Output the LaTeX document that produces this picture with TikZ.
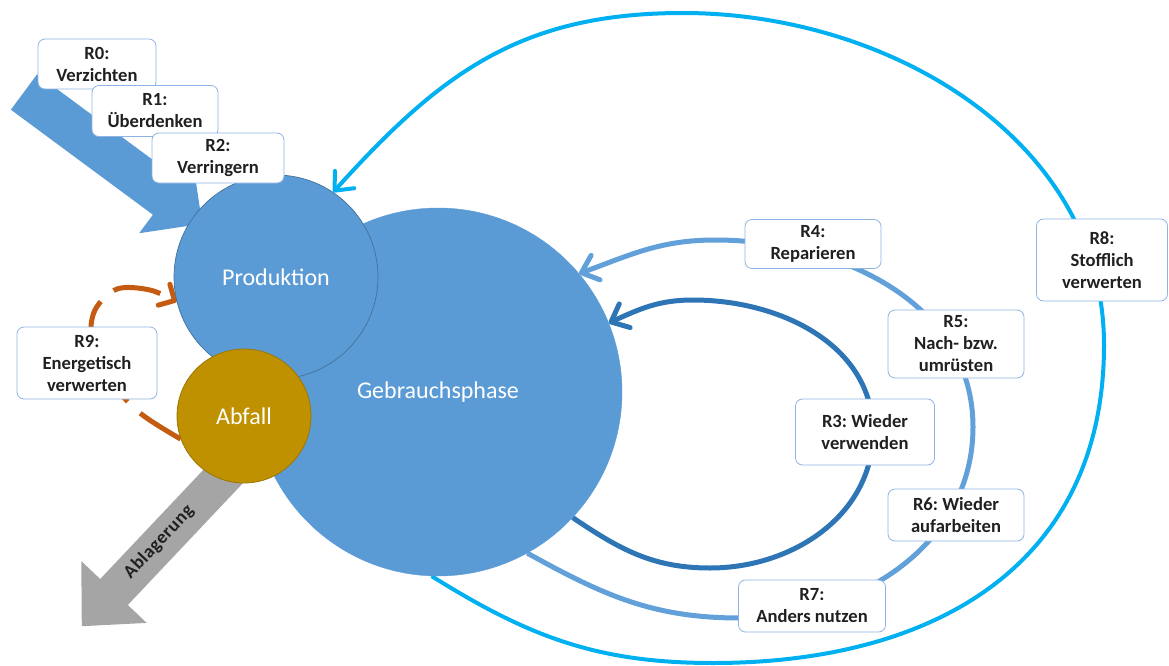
\documentclass[tikz,border=0pt]{standalone}
\usepackage{fontspec}
\setmainfont{Carlito}
\usetikzlibrary{arrows.meta}
\pgfdeclarelayer{back}
\pgfsetlayers{back,main}
\definecolor{circblue}{HTML}{5B9BD5}
\definecolor{circedge}{HTML}{41719C}
\definecolor{darkloop}{HTML}{2E75B6}
\definecolor{midloop}{HTML}{62A0DA}
\definecolor{cyanloop}{HTML}{00B0F0}
\definecolor{orangeloop}{HTML}{C55A11}
\definecolor{gold}{HTML}{BF9000}
\definecolor{goldedge}{HTML}{9C7600}
\definecolor{boxedge}{HTML}{8EB4E3}
\definecolor{txt}{HTML}{202020}
\definecolor{grayarrow}{HTML}{A5A5A5}
\frenchspacing
\begin{document}
\begin{tikzpicture}[x=1pt,y=-1pt,
  lbl/.style={draw=boxedge, line width=0.8pt, fill=white, rounded corners=7pt,
    align=center, inner sep=0pt, font=\fontsize{18.6}{22}\selectfont\bfseries, text=txt},
  phase/.style={circle, inner sep=0pt, font=\fontsize{24}{28}\selectfont, text=white},
  barb/.style={-{Straight Barb[length=15pt,width=26pt,round]}},
  loopline/.style={line width=5pt, barb}
]
\useasboundingbox (0,0) rectangle (1169,666);

% circles
\node[phase, fill=circblue, draw=circblue, minimum size=368pt] (geb) at (438,392) {Gebrauchsphase};
\node[phase, fill=circblue, draw=circedge, line width=0.7pt, minimum size=204pt] (prod) at (276,277) {Produktion};
\node[phase, fill=gold, draw=goldedge, line width=0.8pt, minimum size=134pt] (abf) at (244,416) {Abfall};

% labels
\node[lbl, minimum width=118pt, minimum height=50pt] (r0) at (97,64) {R0:\\Verzichten};
\node[lbl, minimum width=126pt, minimum height=51pt] (r1) at (155,111) {R1:\\Überdenken};
\node[lbl, minimum width=132pt, minimum height=50pt] (r2) at (218,158) {R2:\\Verringern};
\node[lbl, minimum width=140pt, minimum height=72pt] (r9) at (87,363) {R9:\\Energetisch\\verwerten};
\node[lbl, minimum width=136pt, minimum height=49pt] (r4) at (813,244) {R4:\\Reparieren};
\node[lbl, minimum width=136pt, minimum height=68pt] (r5) at (956,344) {R5:\\Nach- bzw.\\umrüsten};
\node[lbl, minimum width=139pt, minimum height=66pt] (r3) at (865,432) {R3: Wieder\\verwenden};
\node[lbl, minimum width=136pt, minimum height=52pt] (r6) at (956,515) {R6: Wieder\\aufarbeiten};
\node[lbl, minimum width=147pt, minimum height=52pt] (r7) at (812,606) {R7:\\Anders nutzen};
\node[lbl, minimum width=131pt, minimum height=82pt] (r8) at (1102,260) {R8:\\Stofflich\\verwerten};

\begin{pgfonlayer}{back}
% big input arrow
\fill[circblue] (37.1,74.3) -- (179.1,179.3) -- (192.8,160.8) -- (202.2,223.8)
  -- (139.2,233.2) -- (152.9,214.7) -- (10.9,109.7) -- cycle;
% Ablagerung arrow
\fill[grayarrow] (247.8,478) -- (127.8,605) -- (146.7,622.9) -- (81.8,626.2)
  -- (81.3,561.1) -- (100.2,579) -- (220.2,452) -- cycle;
\node[rotate=47, font=\fontsize{18.6}{20}\selectfont\bfseries\addfontfeature{LetterSpace=3}, text=txt] (abl) at (159,542) {Ablagerung};

% named way points of the loops
\coordinate (c8b) at (713,663);
\coordinate (c8r) at (1104,345);
\coordinate (c8t) at (683,13);
\coordinate (c4b) at (740,618);
\coordinate (c4r) at (973,427);
\coordinate (c4t) at (715,240);
\coordinate (c3b) at (710,568);
\coordinate (c3r) at (873,432);
\coordinate (c3t) at (693,300);

% R8 loop
\draw[cyanloop, line width=4pt, barb] (geb.-92.5) to[out=-32,in=180] (c8b)
  to[out=0,in=-90,looseness=1.12] (c8r) to[out=90,in=0,looseness=0.98] (c8t)
  to[out=180,in=48,looseness=1.05] (prod.56.2);
% R4-R7 loop
\draw[midloop, loopline] (geb.-61.4) to[out=-29,in=180] (c4b)
  to[out=0,in=-90] (c4r) to[out=90,in=0] (c4t) to[out=180,in=20] (geb.40.2);
% R3 loop
\draw[darkloop, loopline] (geb.-43.2) to[out=-34,in=180] (c3b)
  to[out=0,in=-90] (c3r) to[out=90,in=0] (c3t) to[out=180,in=24.6] (geb.22.1);
% R9 loop
\draw[orangeloop, line width=5pt, dash pattern=on 48pt off 17pt,
  -{Straight Barb[length=12pt,width=24pt,round]}] plot[smooth, tension=0.55] coordinates {
  (abf.200) (140,413) (110,380) (92,340) (95,310) (117,289) (150,290) (prod.194.2)};
\end{pgfonlayer}
\end{tikzpicture}
\end{document}
